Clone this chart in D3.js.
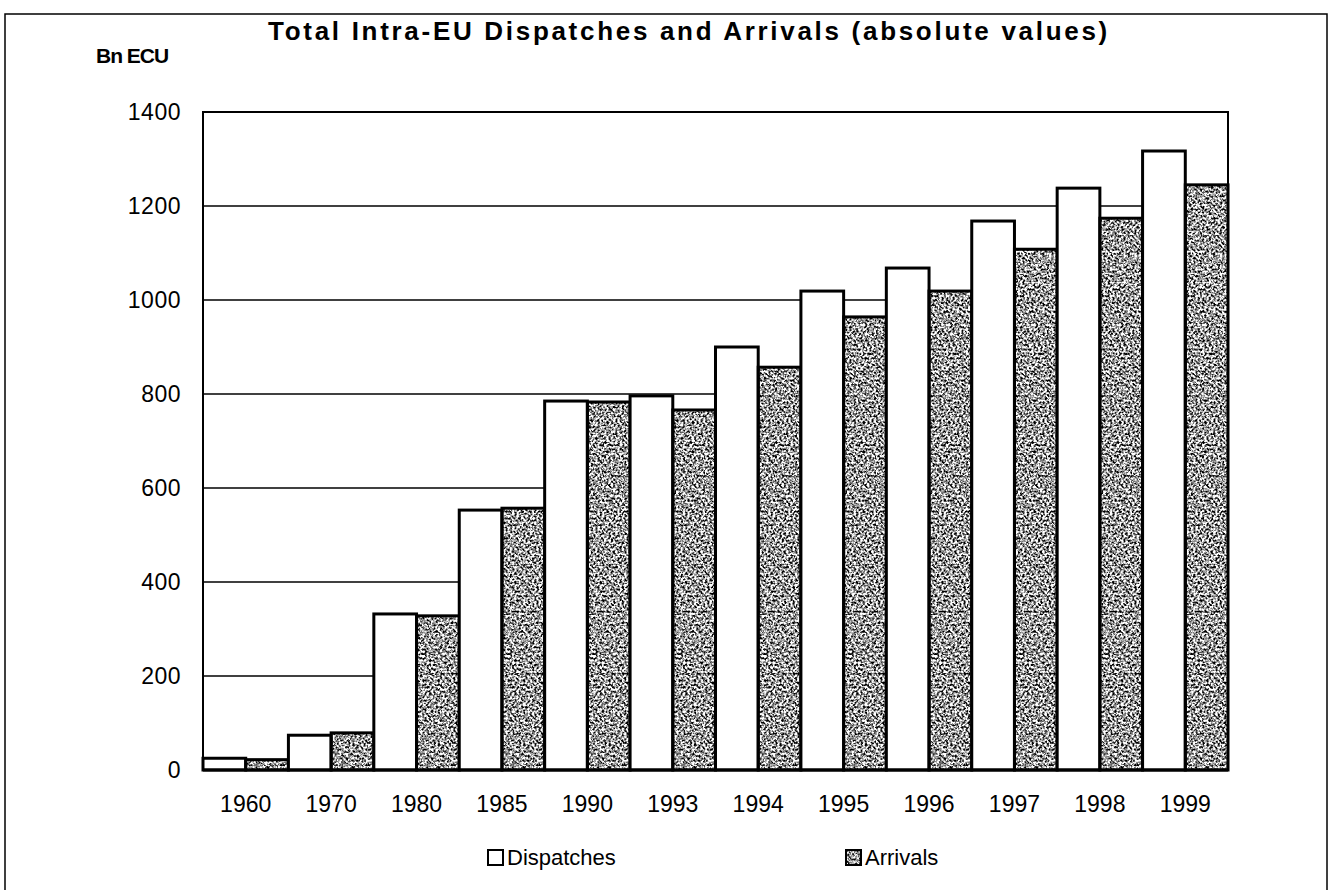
<!DOCTYPE html>
<html>
<head>
<meta charset="utf-8">
<script src="https://cdn.jsdelivr.net/npm/d3@7"></script>
<style>
  body { margin: 0; background: #fff; }
  text { font-family: "Liberation Sans", Arial, sans-serif; fill: #000; }
</style>
</head>
<body>
<div id="chart"></div>
<script>
// years on the x axis
var years = ["1960", "1970", "1980", "1985", "1990", "1993", "1994", "1995", "1996", "1997", "1998", "1999"];
// values in Bn ECU
var dispatches = [25, 74, 332, 553, 785, 796, 900, 1019, 1068, 1168, 1238, 1317];
var arrivals = [22, 79, 328, 557, 783, 766, 857, 964, 1019, 1108, 1174, 1245];
var yTicks = [0, 200, 400, 600, 800, 1000, 1200, 1400];
var seriesNames = ["Dispatches", "Arrivals"];

var width = 1330, height = 890;
var margin = {left: 203, right: 102, top: 112, bottom: 120};

var svg = d3.select("#chart").append("svg")
  .attr("width", width)
  .attr("height", height);

// grainy grey texture for the arrivals bars (scanned look)
var defs = svg.append("defs");
var filt = defs.append("filter").attr("id", "grain")
  .attr("color-interpolation-filters", "sRGB")
  .attr("x", 0).attr("y", 0).attr("width", 1).attr("height", 1);
filt.append("feTurbulence")
  .attr("type", "fractalNoise").attr("baseFrequency", 0.45)
  .attr("numOctaves", 2).attr("seed", 7).attr("result", "noise");
filt.append("feColorMatrix")
  .attr("in", "noise").attr("type", "matrix")
  .attr("values", "3 0 0 0 -0.9  3 0 0 0 -0.9  3 0 0 0 -0.9  0 0 0 0 1")
  .attr("result", "grey");
filt.append("feComposite").attr("in", "grey").attr("in2", "SourceGraphic").attr("operator", "in");

// outer frame
svg.append("rect")
  .attr("x", 5).attr("y", 14)
  .attr("width", 1322).attr("height", 900)
  .attr("fill", "none").attr("stroke", "#000").attr("stroke-width", 1.5);

var x0 = d3.scaleBand()
  .domain(years)
  .range([margin.left, width - margin.right])
  .padding(0);
var x1 = d3.scaleBand()
  .domain(seriesNames)
  .range([0, x0.bandwidth()])
  .padding(0);
var y = d3.scaleLinear()
  .domain([0, 1400])
  .range([height - margin.bottom, margin.top]);

// horizontal grid
svg.append("g")
  .selectAll("line")
  .data(yTicks.slice(1))
  .enter().append("line")
  .attr("x1", margin.left).attr("x2", width - margin.right)
  .attr("y1", function(d){ return y(d); })
  .attr("y2", function(d){ return y(d); })
  .attr("stroke", "#000").attr("stroke-width", 1.6);

// y tick labels
svg.append("g")
  .selectAll("text")
  .data(yTicks)
  .enter().append("text")
  .attr("x", 181)
  .attr("y", function(d){ return y(d) + 8; })
  .attr("text-anchor", "end")
  .style("font-size", "23px")
  .style("letter-spacing", "0.5px")
  .text(function(d){ return d; });

// bars
var rows = years.map(function(yr, i) {
  return {year: yr, vals: [dispatches[i], arrivals[i]]};
});
var grp = svg.append("g").selectAll("g")
  .data(rows)
  .enter().append("g")
  .attr("transform", function(d){ return "translate(" + x0(d.year) + ",0)"; });

grp.selectAll("rect.fillbar")
  .data(function(d){ return d.vals.map(function(v, j){ return {name: seriesNames[j], v: v}; }); })
  .enter().append("rect")
  .attr("x", function(d){ return x1(d.name); })
  .attr("y", function(d){ return y(d.v); })
  .attr("width", x1.bandwidth())
  .attr("height", function(d){ return y(0) - y(d.v); })
  .attr("fill", function(d){ return d.name == "Dispatches" ? "#fff" : "#888"; })
  .attr("filter", function(d){ return d.name == "Arrivals" ? "url(#grain)" : null; });

grp.selectAll("rect.outline")
  .data(function(d){ return d.vals.map(function(v, j){ return {name: seriesNames[j], v: v}; }); })
  .enter().append("rect")
  .attr("x", function(d){ return x1(d.name); })
  .attr("y", function(d){ return y(d.v); })
  .attr("width", x1.bandwidth())
  .attr("height", function(d){ return y(0) - y(d.v); })
  .attr("fill", "none")
  .attr("stroke", "#000").attr("stroke-width", 3);

// plot frame
svg.append("rect")
  .attr("x", margin.left).attr("y", margin.top)
  .attr("width", width - margin.left - margin.right)
  .attr("height", height - margin.top - margin.bottom)
  .attr("fill", "none").attr("stroke", "#000").attr("stroke-width", 2);
svg.append("line")
  .attr("x1", margin.left).attr("x2", width - margin.right)
  .attr("y1", y(0)).attr("y2", y(0))
  .attr("stroke", "#000").attr("stroke-width", 3);

// x labels
svg.append("g")
  .selectAll("text")
  .data(years)
  .enter().append("text")
  .attr("x", function(d){ return x0(d) + x0.bandwidth() / 2; })
  .attr("y", 812)
  .attr("text-anchor", "middle")
  .style("font-size", "23px")
  .text(function(d){ return d; });

// title + unit
svg.append("text")
  .attr("x", 689).attr("y", 40)
  .attr("text-anchor", "middle")
  .style("font-size", "26px").style("font-weight", "bold")
  .style("letter-spacing", "2.7px")
  .text("Total Intra-EU Dispatches and Arrivals (absolute values)");
svg.append("text")
  .attr("x", 96).attr("y", 63)
  .style("font-size", "21px").style("font-weight", "bold")
  .style("letter-spacing", "-1px")
  .text("Bn ECU");

// legend
var legendX = [488, 846];
var leg = svg.append("g").selectAll("g")
  .data(seriesNames)
  .enter().append("g")
  .attr("transform", function(d, i){ return "translate(" + legendX[i] + ",850)"; });
leg.append("rect")
  .attr("width", 15).attr("height", 15)
  .attr("fill", function(d){ return d == "Dispatches" ? "#fff" : "#888"; })
  .attr("filter", function(d){ return d == "Arrivals" ? "url(#grain)" : null; });
leg.append("rect")
  .attr("width", 15).attr("height", 15)
  .attr("fill", "none").attr("stroke", "#000").attr("stroke-width", 2);
leg.append("text")
  .attr("x", 19).attr("y", 15)
  .style("font-size", "22px")
  .text(function(d){ return d; });
</script>
</body>
</html>
